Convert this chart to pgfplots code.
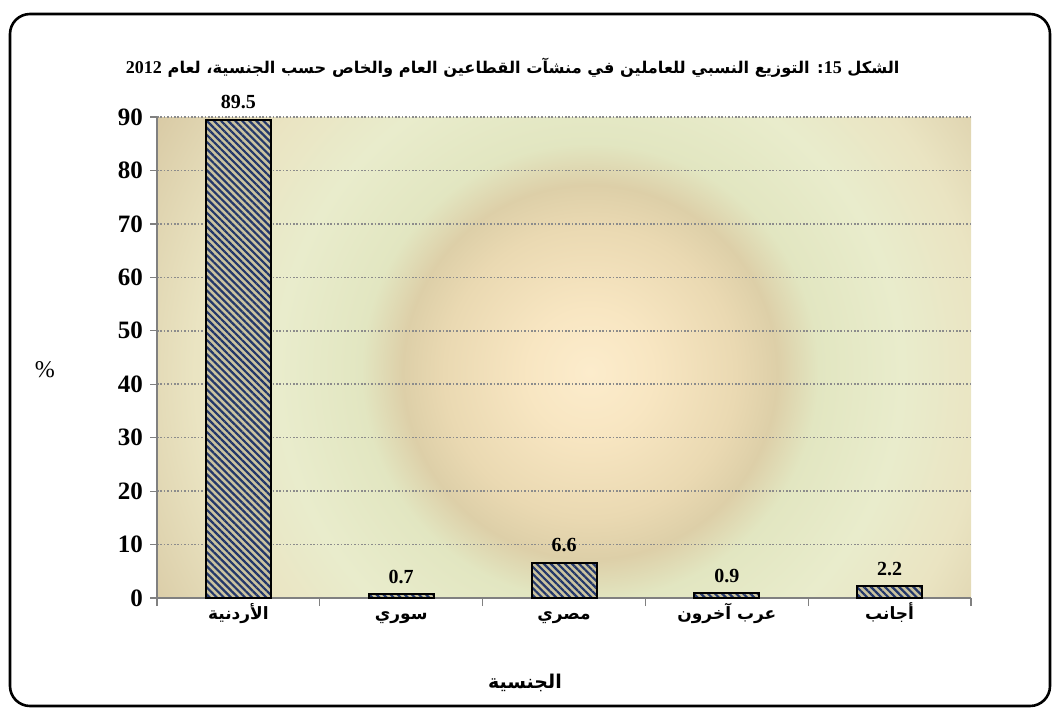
\documentclass[border=0pt]{standalone}
\usepackage{fontspec}
\setmainfont{Liberation Serif}
\newfontfamily\ar[Script=Arabic]{DejaVu Sans}
\usepackage{pgfplots}
\pgfplotsset{compat=1.18}
\usetikzlibrary{patterns.meta}
\TeXXeTstate=1

\definecolor{stripe}{RGB}{35,55,105}
\definecolor{khaki}{RGB}{202,195,160}
\definecolor{gridc}{RGB}{140,140,140}
\definecolor{axc}{RGB}{128,128,128}
% background colours, centre to edge
\definecolor{bga}{RGB}{252,236,204}
\definecolor{bgb}{RGB}{248,230,194}
\definecolor{bgc}{RGB}{234,217,178}
\definecolor{bgd}{RGB}{221,207,168}
\definecolor{bge}{RGB}{226,230,193}
\definecolor{bgf}{RGB}{233,236,204}
\definecolor{bgg}{RGB}{234,228,194}
\definecolor{bgh}{RGB}{214,198,160}
% tikz maps the circle radius to 25bp
\pgfdeclareradialshading{chartbg}{\pgfpoint{0bp}{0bp}}{%
  color(0bp)=(bga); color(3bp)=(bgb); color(7bp)=(bgc); color(9bp)=(bgd);
  color(11bp)=(bge); color(15bp)=(bgf); color(19bp)=(bgg); color(25bp)=(bgh);
  color(50bp)=(bgh)}

\begin{document}
\begin{tikzpicture}
\useasboundingbox (0,0) rectangle (529.5pt,-356.5pt);
% plot area background
\begin{scope}
  \clip (78.5pt,-58.5pt) rectangle (485.5pt,-299pt);
  \shade[shading=chartbg] (295pt,-186pt) circle (260pt);
\end{scope}
\draw[line width=1.3pt, rounded corners=10pt] (5pt,-7pt) rectangle (525pt,-353pt);

\begin{axis}[
  at={(78.5pt,-299pt)}, anchor=south west,
  scale only axis, width=407pt, height=240.5pt,
  axis lines=left,
  axis line style={-, draw=axc, line width=0.7pt},
  xmin=-0.5, xmax=4.5, ymin=0, ymax=90,
  ytick={0,10,...,90},
  xtick={0,...,4},
  xticklabels={{\beginR الأردنية\endR},{\beginR سوري\endR},{\beginR مصري\endR},{\beginR عرب آخرون\endR},{\beginR أجانب\endR}},
  minor xtick={-0.5,0.5,...,4.5},
  tick align=outside,
  major tick length=3.5pt, minor tick length=4pt,
  major x tick style={draw=none},
  tick style={draw=axc, line width=0.6pt},
  ymajorgrids,
  grid style={draw=gridc, line width=0.8pt, dash pattern=on 0.8pt off 0.9pt},
  /pgf/number format/assume math mode=true,
  yticklabel style={font=\bfseries\fontsize{12.5}{14}\selectfont},
  xticklabel style={font=\ar\bfseries\fontsize{8.5}{10}\selectfont, anchor=center, text height=6pt, text depth=2pt, yshift=-5pt},
  ybar, bar width=32.5pt,
  nodes near coords,
  nodes near coords style={font=\bfseries\fontsize{10}{12}\selectfont, text=black, yshift=1.5pt},
  title={\ar\bfseries\fontsize{8.1}{10}\selectfont\beginR الشكل \beginL{\rmfamily\fontsize{9}{10}\selectfont 15}\endL: التوزيع النسبي للعاملين في منشآت القطاعين العام والخاص حسب الجنسية، لعام \beginL{\rmfamily\fontsize{9}{10}\selectfont 2012}\endL\endR},
  title style={at={(axis description cs:0.437,1.077)}, anchor=center, yshift=0pt},
  ylabel={\%},
  ylabel style={at={(axis description cs:-0.1376,0.474)}, rotate=-90, anchor=center, font=\fontsize{12}{14}\selectfont},
  xlabel={\ar\bfseries\beginR الجنسية\endR},
  xlabel style={at={(axis description cs:0.452,-0.177)}, anchor=center, font=\fontsize{9.5}{11}\selectfont},
]
\addplot[draw=black, line width=1pt, fill=khaki,
  postaction={pattern={Lines[angle=-45,distance=2.5pt,line width=1.1pt]}, pattern color=stripe}]
  coordinates {(0,89.5) (1,0.7) (2,6.6) (3,0.9) (4,2.2)};
\end{axis}
\end{tikzpicture}
\end{document}
